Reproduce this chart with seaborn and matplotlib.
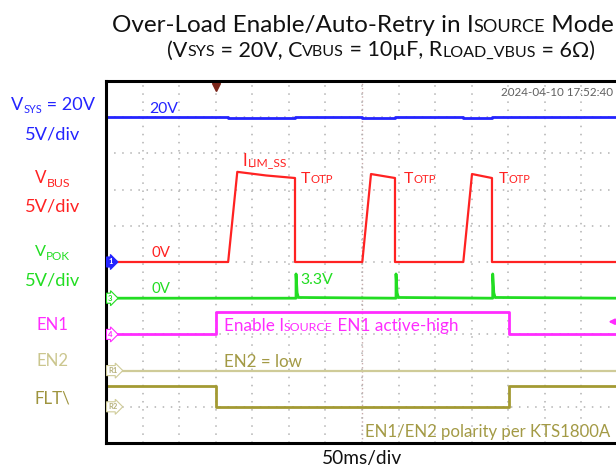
import matplotlib
matplotlib.use("Agg")
import matplotlib.pyplot as plt
import pandas as pd
import seaborn as sns

# scope traces: x in ms (50 ms/div, 14 div on screen), y in screen divisions from the bottom
vsys_ms = [0, 167, 167, 258.4, 258.4, 350.4, 350.4, 395.1, 395.1, 488.5, 488.5, 527.7, 527.7, 700]
vsys_div = [9.0, 9.0, 8.97, 8.97, 9.0, 9.0, 8.97, 8.97, 9.0, 9.0, 8.97, 8.97, 9.0, 9.0]

vbus_ms = [0, 167, 179.5, 219, 258.4, 258.4, 350.4, 362.3, 395.1, 395.1, 488.5, 500.4, 527.7, 527.7, 700]
vbus_div = [5.0, 5.0, 7.49, 7.39, 7.32, 5.0, 5.0, 7.43, 7.32, 5.0, 5.0, 7.43, 7.32, 5.0, 5.0]

vpok_ms = [0, 259.8, 259.8, 261.3, 263, 396.5, 396.5, 398, 399.7, 528.7, 528.7, 530.2, 532, 700]
vpok_div = [4.0, 4.0, 4.67, 4.15, 4.02, 4.0, 4.67, 4.15, 4.02, 4.0, 4.67, 4.15, 4.02, 4.0]

en1_ms = [0, 150, 150, 551, 551, 700]
en1_div = [3.0, 3.0, 3.63, 3.63, 3.0, 3.0]

en2_ms = [0, 700]
en2_div = [2.0, 2.0]

flt_ms = [0, 150, 150, 551, 551, 700]
flt_div = [1.58, 1.58, 1.0, 1.0, 1.58, 1.58]

marker_tags = ["1", "3", "4", "R1", "R2"]
marker_levels = [5.0, 4.0, 3.0, 2.0, 1.0]
trigger_ms = 150

BLUE = "#2424ff"
RED = "#ff2222"
GREEN = "#22dd22"
MAGENTA = "#ff2cff"
KHAKI = "#cfcb98"
OLIVE = "#a39a33"
OLIVE_TXT = "#a39a45"

W, H = 616, 468

sns.set_theme(style="white")
plt.rcParams["font.family"] = ["Lato", "DejaVu Sans"]

fig = plt.figure(figsize=(W / 100, H / 100), dpi=100)
ax = fig.add_axes([106 / W, 1 - 443 / H, 512 / W, 362 / H])

traces = [
    ("EN2", en2_ms, en2_div, KHAKI, 1.6),
    ("FLT", flt_ms, flt_div, OLIVE, 2.0),
    ("EN1", en1_ms, en1_div, MAGENTA, 2.0),
    ("VPOK", vpok_ms, vpok_div, GREEN, 2.0),
    ("VBUS", vbus_ms, vbus_div, RED, 1.6),
    ("VSYS", vsys_ms, vsys_div, BLUE, 2.0),
]
df = pd.concat([pd.DataFrame({"ms": t, "div": v, "ch": name}) for name, t, v, _, _ in traces])

for name, _, _, color, lw in traces:
    sns.lineplot(data=df[df["ch"] == name], x="ms", y="div", color=color, lw=lw,
                 estimator=None, sort=False, legend=False, ax=ax)

ax.set(xlabel="", ylabel="")
ax.set_xlim(0, 700)
ax.set_ylim(0, 10)
ax.set_xticks(range(0, 701, 50))
ax.set_yticks(range(0, 11))
ax.tick_params(length=0, labelbottom=False, labelleft=False)
ax.grid(True, color="#b2b2b2", lw=1.1, linestyle=(0, (1, 4.3)))
ax.axvline(350, color="#c8aaaa", lw=1.0, linestyle=(0, (1, 2)), zorder=0)
for s in ax.spines.values():
    s.set_color("black")
    s.set_linewidth(2.2)

# ground reference markers on the left edge
for tag, lvl in zip(marker_tags, marker_levels):
    if tag == "1":
        fc, ec, tc = BLUE, BLUE, "white"
    elif tag == "3":
        fc, ec, tc = "white", GREEN, GREEN
    elif tag == "4":
        fc, ec, tc = "white", MAGENTA, MAGENTA
    else:
        fc, ec, tc = "white", KHAKI, "#b5b07a"
    ax.annotate(tag, xy=(0, lvl), xytext=(1.5, 0), textcoords="offset points",
                ha="left", va="center", fontsize=5.5, color=tc, fontweight="bold",
                bbox=dict(boxstyle="rarrow,pad=0.2", fc=fc, ec=ec, lw=0.8),
                annotation_clip=False, zorder=5)

ax.plot([trigger_ms], [9.83], marker="v", ms=6, color="#7a2418", clip_on=False)
ax.annotate("", xy=(683, 3.35), xytext=(704, 3.35),
            arrowprops=dict(arrowstyle="-|>", color=MAGENTA, lw=1.5, mutation_scale=8),
            annotation_clip=False)


def rich(x0, x1, y, pieces, color, size=12):
    """Draw text pieces (text, rel size, lift px) on one baseline, fitted to x0..x1 px."""
    arts = []
    for s, k, lift in pieces:
        yy = 1 - (y - lift) / H
        if not arts:
            t = fig.text(x0 / W, yy, s, fontsize=size * k, color=color, va="baseline", ha="left")
        else:
            t = ax.annotate(s, xy=(1, yy), xycoords=(arts[-1], "figure fraction"),
                            fontsize=size * k, color=color, va="baseline", ha="left",
                            annotation_clip=False)
        arts.append(t)
    r = fig.canvas.get_renderer()
    for _ in range(3):
        ext = [a.get_window_extent(r) for a in arts]
        f = (x1 - x0) / (ext[-1].x1 - ext[0].x0)
        for a in arts:
            a.set_fontsize(a.get_fontsize() * f)
    return arts


# title
rich(112, 614, 31.5, [("Over-Load Enable/Auto-Retry in I", 1, 0), ("SOURCE", 0.75, 0), (" Mode", 1, 0)],
     "#111111", 17)
rich(167, 595, 56.5, [("(V", 1, 0), ("SYS", 0.75, 0), (" = 20V, C", 1, 0), ("VBUS", 0.75, 0),
                      (" = 10µF, R", 1, 0), ("LOAD_VBUS", 0.75, 0), (" = 6Ω)", 1, 0)],
     "#111111", 13)

# channel labels on the left
rich(11, 95, 110, [("V", 1, 0), ("SYS", 0.6, -3), (" = 20V", 1, 0)], BLUE, 13.5)
rich(25, 80, 140, [("5V/div", 1, 0)], BLUE, 13.5)
rich(35, 70, 183, [("V", 1, 0), ("BUS", 0.72, -4)], RED, 13.5)
rich(25, 80, 211.5, [("5V/div", 1, 0)], RED, 13.5)
rich(35, 70, 256.5, [("V", 1, 0), ("POK", 0.72, -3)], GREEN, 13.5)
rich(25, 80, 285, [("5V/div", 1, 0)], GREEN, 13.5)
rich(36, 68, 330, [("EN1", 1, 0)], MAGENTA, 13.5)
rich(36, 68, 366.5, [("EN2", 1, 0)], "#cbc68e", 13.5)
rich(35, 71, 403, [("FLT\\", 1, 0)], "#9e943e", 13.5)

# annotations inside the screen
rich(149, 178, 113.3, [("20V", 1, 0)], BLUE, 11)
rich(151, 170, 257, [("0V", 1, 0)], RED, 11)
rich(151, 170, 293, [("0V", 1, 0)], GREEN, 11)
rich(300, 333, 284, [("3.3V", 1, 0)], GREEN, 11)
rich(243, 287, 165.7, [("I", 1, 0), ("LIM_SS", 0.72, 0)], RED, 11)
for x0, x1 in [(301, 333), (404, 436), (499, 530)]:
    rich(x0, x1, 183.3, [("T", 1, 0), ("OTP", 0.72, 0)], RED, 11)
rich(224, 457, 330.7, [("Enable I", 1, 0), ("SOURCE", 0.72, 0), (" EN1 active-high", 1, 0)], MAGENTA, 11)
rich(224, 302, 367, [("EN2 = low", 1, 0)], OLIVE_TXT, 11)
rich(365, 611, 436.5, [("EN1/EN2 polarity per KTS1800A", 1, 0)], OLIVE_TXT, 11)
rich(501, 613, 95.5, [("2024-04-10 17:52:40", 1, 0)], "#606060", 9)
rich(322, 402, 464, [("50ms/div", 1, 0)], "#111111", 12)

fig.savefig("out.png", dpi=100)
